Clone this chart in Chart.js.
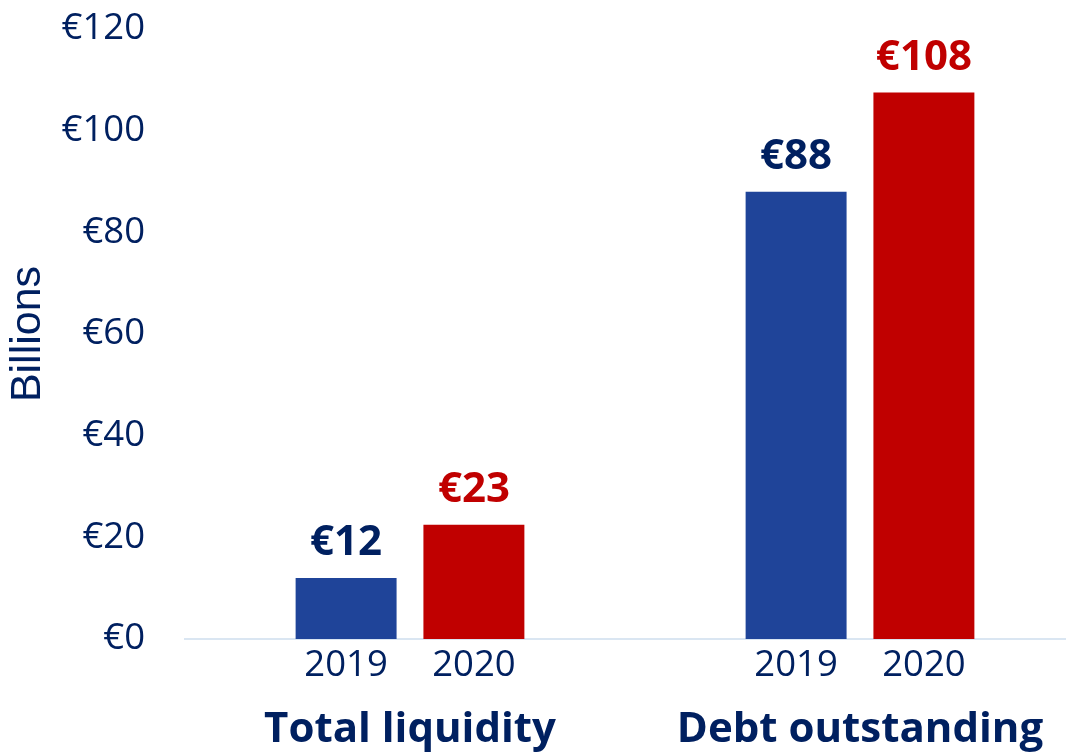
<!DOCTYPE html>
<html>
<head>
<meta charset="utf-8">
<script src="https://cdn.jsdelivr.net/npm/chart.js@4.4.1/dist/chart.umd.min.js"></script>
<style>
  html, body { margin: 0; padding: 0; background: #fff; overflow: hidden; }
  canvas { display: block; }
</style>
</head>
<body>
<canvas id="c" width="1100" height="752"></canvas>
<script>
// groups on the x axis
const groups = ["Total liquidity", "Debt outstanding"];
// years (one dataset each)
const years = ["2019", "2020"];
// values in € billions
const values2019 = [12, 88];
const values2020 = [22.5, 107.5];
// y axis ticks
const yMin = 0;
const yMax = 120;
const yStep = 20;

const NAVY = "#002060";
const BLUE = "#1F4499";
const RED = "#C00000";

// value labels above bars + year labels under bars
const barLabels = {
    id: "barLabels",
    afterDatasetsDraw: function (chart) {
        const ctx = chart.ctx;
        const area = chart.chartArea;
        ctx.save();
        ctx.textAlign = "center";
        ctx.textBaseline = "alphabetic";
        chart.data.datasets.forEach(function (ds, di) {
            const meta = chart.getDatasetMeta(di);
            meta.data.forEach(function (bar, i) {
                ctx.font = "bold 42px 'Open Sans'";
                ctx.fillStyle = ds.labelColor;
                ctx.fillText("€" + Math.round(ds.data[i]), bar.x, bar.y - 23);
                ctx.font = "36.5px 'Open Sans'";
                ctx.fillStyle = NAVY;
                ctx.fillText(ds.label, bar.x, area.bottom + 37);
            });
        });
        ctx.restore();
    },
};

new Chart(document.getElementById("c"), {
    type: "bar",
    data: {
        labels: groups,
        datasets: [
            {
                label: years[0],
                data: values2019,
                backgroundColor: BLUE,
                labelColor: NAVY,
                categoryPercentage: 0.568,
                barPercentage: 0.79,
            },
            {
                label: years[1],
                data: values2020,
                backgroundColor: RED,
                labelColor: RED,
                categoryPercentage: 0.568,
                barPercentage: 0.79,
            },
        ],
    },
    options: {
        responsive: false,
        animation: false,
        layout: { padding: { top: 29, left: 0, right: 15, bottom: 0 } },
        plugins: { legend: { display: false }, tooltip: { enabled: false } },
        scales: {
            x: {
                afterFit: function (scale) {
                    scale.height = 113;
                    scale.paddingLeft = 0;
                    scale.paddingRight = 0;
                },
                grid: { display: false, drawTicks: false },
                border: { display: true, color: "#DAE6F2", width: 2 },
                ticks: {
                    padding: 66,
                    maxRotation: 0,
                    color: NAVY,
                    font: { family: "'Open Sans'", size: 42, weight: "bold" },
                },
            },
            y: {
                min: yMin,
                max: yMax,
                afterFit: function (scale) {
                    scale.width = 185;
                    scale.paddingTop = 0;
                    scale.paddingBottom = 0;
                },
                grid: { display: false, drawTicks: false },
                border: { display: false },
                ticks: {
                    stepSize: yStep,
                    padding: 40,
                    color: NAVY,
                    font: { family: "'Open Sans'", size: 36.5 },
                    callback: function (v) { return "€" + v; },
                },
                title: {
                    display: true,
                    text: "Billions",
                    color: NAVY,
                    padding: { top: 2, bottom: 0 },
                    font: { family: "'Liberation Sans'", size: 43 },
                },
            },
        },
    },
    plugins: [barLabels],
});
</script>
</body>
</html>
